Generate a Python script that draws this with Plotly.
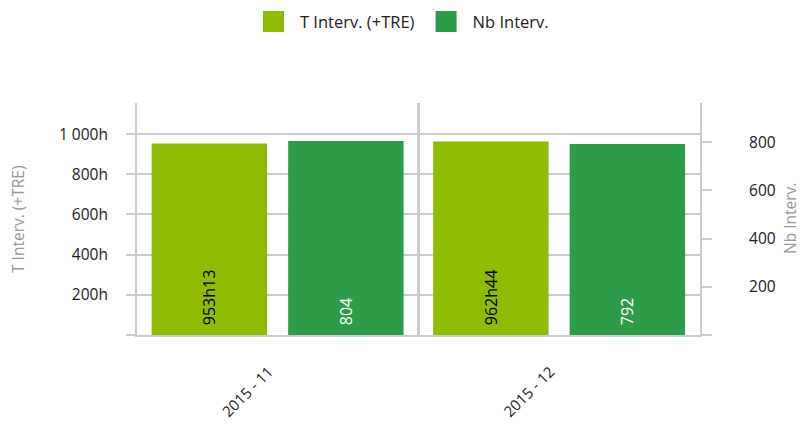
import plotly.graph_objects as go

# ---- data ----
categories = ["2015 - 11", "2015 - 12"]
t_interv_hours = [953, 962]
t_interv_minutes = [13, 44]
nb_interv = [804, 792]

left_tickvals = [0, 200, 400, 600, 800, 1000]
left_ticktext = ["", "200h", "400h", "600h", "800h", "1 000h"]
right_tickvals = [0, 200, 400, 600, 800]
right_ticktext = ["", "200", "400", "600", "800"]

series_names = ["T Interv. (+TRE)", "Nb Interv."]

# ---- derived ----
t_interv_values = [h + m / 60 for h, m in zip(t_interv_hours, t_interv_minutes)]
t_interv_labels = [f"{h}h{m:02d}" for h, m in zip(t_interv_hours, t_interv_minutes)]
nb_labels = [str(v) for v in nb_interv]

LIGHT = "#8fbc00"
DARK = "#2e9b48"
GRID = "#cccccc"
FONT = "Open Sans"
PAD = "\u00a0\u2009"

fig = go.Figure()

fig.add_trace(go.Bar(
    x=categories, y=t_interv_values, yaxis="y",
    name=series_names[0], legendgroup="t", showlegend=False,
    marker=dict(color=LIGHT, line=dict(width=0)),
    offset=-0.448, width=0.41,
    text=t_interv_labels, texttemplate=PAD + "%{text}",
    textposition="inside", insidetextanchor="start",
    textangle=-90, textfont=dict(color="#000000", size=16, family=FONT),
    hovertemplate="%{x}<br>%{text}<extra></extra>",
))
fig.add_trace(go.Bar(
    x=categories, y=nb_interv, yaxis="y2",
    name=series_names[1], legendgroup="n", showlegend=False,
    marker=dict(color=DARK, line=dict(width=0)),
    offset=0.037, width=0.41,
    text=nb_labels, texttemplate=PAD + "%{text}",
    textposition="inside", insidetextanchor="start",
    textangle=-90, textfont=dict(color="#ffffff", size=16, family=FONT),
    hovertemplate="%{x}<br>%{y}<extra></extra>",
))

# legend entries (bigger square swatches)
for name, color, grp in [(series_names[0], LIGHT, "t"), (series_names[1], DARK, "n")]:
    fig.add_trace(go.Scatter(
        x=[None], y=[None], mode="markers", name=name, legendgroup=grp,
        marker=dict(symbol="square", size=16, color=color, line=dict(color=color, width=5)),
        hoverinfo="skip",
    ))

fig.update_layout(
    width=801, height=426,
    margin=dict(l=137, r=101, t=103, b=91, autoexpand=False),
    paper_bgcolor="white", plot_bgcolor="white",
    font=dict(family=FONT, size=15, color="#222222"),
    barmode="overlay",
    showlegend=True,
    legend=dict(
        orientation="h", xref="container", yref="container",
        x=0.5, xanchor="center", y=0.99, yanchor="top",
        font=dict(family=FONT, size=16.5, color="#222222"),
        itemwidth=43,
    ),
    xaxis=dict(
        type="category", range=[-0.5, 1.5], automargin=False,
        tickson="boundaries", ticks="",
        showgrid=True, gridcolor=GRID, gridwidth=3,
        showline=True, linecolor=GRID, linewidth=2,
        tickangle=-45, ticklabelstandoff=20, ticklabelshift=-9,
        tickfont=dict(size=15, color="#222222"),
        zeroline=False, fixedrange=True,
    ),
    yaxis=dict(
        range=[0, 1155], tickvals=left_tickvals, ticktext=left_ticktext,
        automargin=False,
        showgrid=True, gridcolor=GRID, gridwidth=2,
        showline=True, linecolor=GRID, linewidth=2,
        ticks="outside", ticklen=9, tickcolor=GRID, tickwidth=2,
        ticklabelstandoff=15,
        zeroline=False, tickfont=dict(size=15.5, color="#222222"),
    ),
    yaxis2=dict(
        overlaying="y", side="right", automargin=False,
        range=[0, 962], tickvals=right_tickvals, ticktext=right_ticktext,
        showgrid=False,
        showline=True, linecolor=GRID, linewidth=2,
        ticks="outside", ticklen=10, tickcolor=GRID, tickwidth=2,
        ticklabelstandoff=34,
        zeroline=False, tickfont=dict(size=15.5, color="#222222"),
    ),
    annotations=[
        dict(text=series_names[0], xref="paper", yref="paper",
             x=(18 - 137) / 563, y=0.5, xanchor="center", yanchor="middle",
             textangle=-90, showarrow=False,
             font=dict(family=FONT, size=15.5, color="#999999")),
        dict(text=series_names[1], xref="paper", yref="paper",
             x=1 + (790 - 700) / 563, y=0.5, xanchor="center", yanchor="middle",
             textangle=-90, showarrow=False,
             font=dict(family=FONT, size=15.5, color="#999999")),
    ],
)

fig.write_html("out.html", config={"displayModeBar": False},
               post_script="document.body.style.margin='0';")
